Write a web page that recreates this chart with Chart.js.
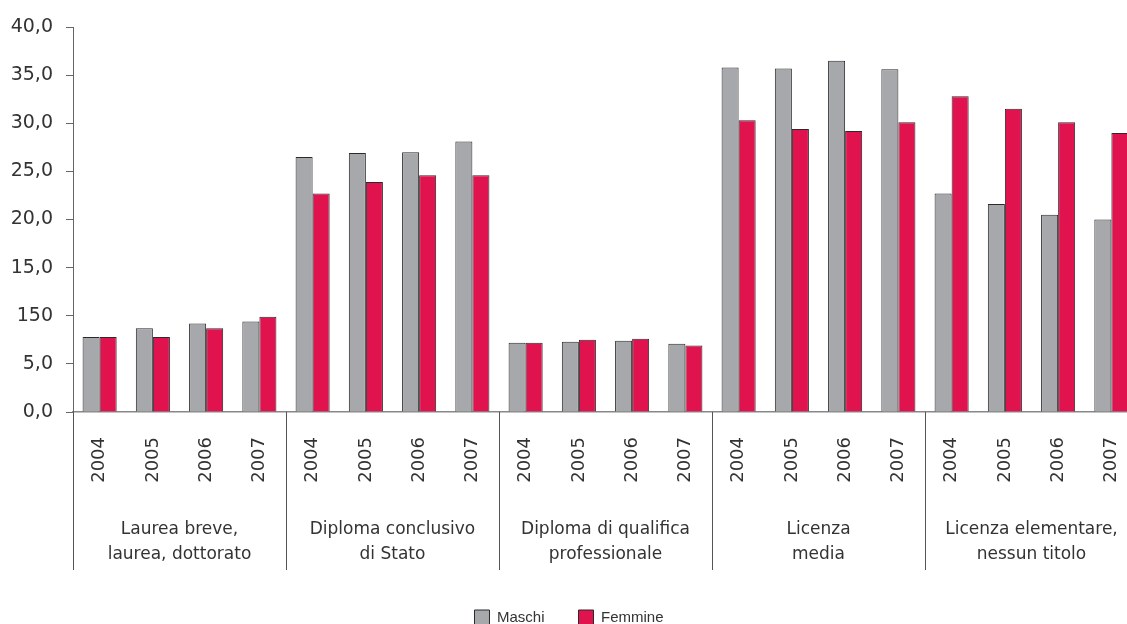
<!DOCTYPE html>
<html><head><meta charset="utf-8">
<script src="https://cdn.jsdelivr.net/npm/chart.js@4.4.1/dist/chart.umd.min.js"></script>
<style>html,body{margin:0;padding:0;background:#fff;overflow:hidden;width:1127px;height:624px}canvas{display:block}</style>
</head><body>
<canvas id="c" width="1138" height="624"></canvas>
<script>
const years = ['2004','2005','2006','2007'];
const categories = [
  ['Laurea breve,','laurea, dottorato'],
  ['Diploma conclusivo','di Stato'],
  ['Diploma di qualifica','professionale'],
  ['Licenza','media'],
  ['Licenza elementare,','nessun titolo']
];
const maschi  = [7.8,8.7,9.2,9.4, 26.5,26.9,27.0,28.1, 7.2,7.3,7.4,7.1, 35.8,35.7,36.5,35.6, 22.7,21.6,20.5,20.0];
const femmine = [7.8,7.8,8.7,9.9, 22.7,23.9,24.6,24.6, 7.2,7.5,7.6,6.9, 30.3,29.4,29.2,30.1, 32.8,31.5,30.1,29.0];
const yTickLabels = ['0,0','5,0','150','15,0','20,0','25,0','30,0','35,0','40,0'];
const seriesNames = ['Maschi','Femmine'];

const labels = [];
categories.forEach(() => years.forEach(y => labels.push(y)));

const groupPlugin = {
  id: 'groups',
  afterDraw(chart) {
    const {ctx, chartArea, scales: {x}} = chart;
    const per = years.length;
    const half = (x.getPixelForValue(1) - x.getPixelForValue(0)) / 2;
    ctx.save();
    ctx.strokeStyle = '#555';
    ctx.lineWidth = 1;
    categories.forEach((lines, g) => {
      const left = x.getPixelForValue(g * per) - half;
      const right = x.getPixelForValue(g * per + per - 1) + half;
      const xl = Math.round(left) + 0.5;
      ctx.beginPath();
      ctx.moveTo(xl, chartArea.bottom);
      ctx.lineTo(xl, 570);
      ctx.stroke();
      ctx.fillStyle = '#333';
      ctx.font = '17px "DejaVu Sans"';
      ctx.textAlign = 'center';
      ctx.textBaseline = 'middle';
      lines.forEach((t, k) => ctx.fillText(t, (left + right) / 2, 530 + k * 25));
    });
    ctx.restore();
  }
};

new Chart(document.getElementById('c'), {
  type: 'bar',
  data: {
    labels: labels,
    datasets: [
      {label: seriesNames[0], data: maschi, backgroundColor: '#a7a8ac', borderColor: '#2a2a2a', borderWidth: 1, categoryPercentage: 0.64, barPercentage: 1.0},
      {label: seriesNames[1], data: femmine, backgroundColor: '#e0134f', borderColor: '#2a2a2a', borderWidth: 1, categoryPercentage: 0.64, barPercentage: 1.0}
    ]
  },
  options: {
    responsive: false,
    animation: false,
    layout: {padding: {top: 27, left: 0, right: 0, bottom: 0}},
    plugins: {
      legend: {
        position: 'bottom',
        maxHeight: 48,
        labels: {boxWidth: 15, boxHeight: 15, padding: 34, color: '#333', font: {family: '"Liberation Sans", Arial', size: 15}}
      },
      tooltip: {enabled: false}
    },
    scales: {
      x: {
        grid: {display: false},
        border: {display: true, color: '#888', width: 1.5},
        ticks: {maxRotation: 90, minRotation: 90, padding: 17, autoSkip: false, color: '#333', font: {family: 'DejaVu Sans', size: 18}},
        afterFit(s) { s.height = 164; s.paddingLeft = 0; s.paddingRight = 0; }
      },
      y: {
        min: 0, max: 40,
        ticks: {stepSize: 5, padding: 13, color: '#333', font: {family: 'DejaVu Sans', size: 19}, callback: (v, i) => yTickLabels[i]},
        grid: {drawOnChartArea: false, drawTicks: true, tickLength: 7, color: '#666'},
        border: {color: '#666'},
        afterFit(s) { s.width = 73; }
      }
    }
  },
  plugins: [groupPlugin]
});
</script>
</body></html>
